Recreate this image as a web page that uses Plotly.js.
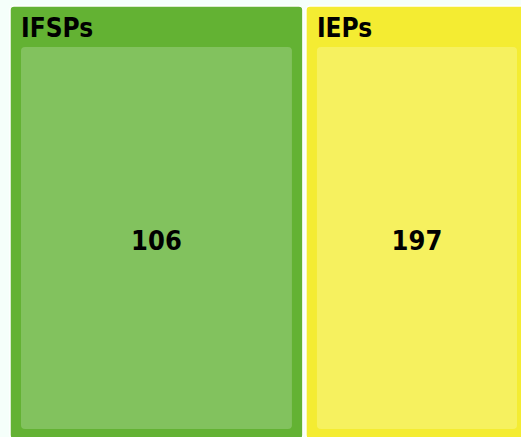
<!DOCTYPE html>
<html>
<head>
<meta charset="utf-8">
<script src="https://cdn.plot.ly/plotly-3.0.1.min.js"></script>
<style>
  html, body { margin: 0; padding: 0; background: #f5fffa; overflow: hidden; width: 521px; height: 437px; }
  #chart { position: absolute; left: -11px; top: -42px; width: 550px; height: 497px; }
</style>
</head>
<body>
<div id="chart"></div>
<script>
// Data
var programs = ["IFSPs", "IEPs"];
var counts = [106, 197];               // numbers shown in the leaves
var areaShares = [56.8, 43.2];         // relative tile areas
var parentColors = ["#63b233", "#f4ec32"];
var leafColors = ["#82c25e", "#f6f15f"];

var CLEAR = "rgba(0,0,0,0)";
var ids = [], labels = [], parents = [], values = [], colors = [], lineColors = [], lineWidths = [];
var headerOnlyLabels = [], leafOnlyLabels = [], blankLabels = [];
programs.forEach(function (p, i) {
  ids.push(p); labels.push(p); parents.push(""); values.push(areaShares[i]);
  colors.push(parentColors[i]); lineColors.push("#ffffff"); lineWidths.push(1.5);
  headerOnlyLabels.push(p); leafOnlyLabels.push(""); blankLabels.push("");
});
programs.forEach(function (p, i) {
  ids.push(p + "/" + counts[i]); labels.push(String(counts[i])); parents.push(p); values.push(areaShares[i]);
  colors.push(leafColors[i]); lineColors.push(leafColors[i]); lineWidths.push(0);
  headerOnlyLabels.push(""); leafOnlyLabels.push(String(counts[i])); blankLabels.push("");
});

var family = "'Liberation Sans Narrow', 'DejaVu Sans Condensed', 'DejaVu Sans', sans-serif";
var pad = { t: 41, l: 11, r: 11, b: 10 };
var PH = 488; // plot-area height in px

function base(lbls, extra) {
  return Object.assign({
    type: "treemap",
    ids: ids,
    labels: lbls,
    parents: parents,
    values: values,
    branchvalues: "total",
    sort: false,
    leaf: { opacity: 1 },
    pathbar: { visible: false },
    hoverinfo: "none"
  }, extra);
}

// Trace 1: coloured tiles only
var tiles = base(blankLabels, {
  domain: { x: [0, 1], y: [4 / PH, 1] },
  textinfo: "none",
  textfont: { family: family, size: 26, color: CLEAR },
  marker: { colors: colors, line: { color: lineColors, width: lineWidths }, pad: pad, cornerradius: 4 }
});

// Trace 2: header labels (left aligned), transparent tiles
var headers = base(headerOnlyLabels, {
  domain: { x: [0, 1], y: [0, 1 - 4 / PH] },
  textinfo: "label",
  textposition: "top left",
  textfont: { family: family, size: 26, color: "#000000", weight: "bold" },
  marker: { colors: ids.map(function () { return CLEAR; }), line: { width: 0 }, pad: pad }
});

// Trace 3: leaf numbers (centered), transparent tiles
var numbers = base(leafOnlyLabels, {
  domain: { x: [0, 1], y: [2 / PH, 1 - 2 / PH] },
  textinfo: "label",
  textposition: "middle center",
  textfont: { family: family, size: 27, color: "#000000", weight: "bold" },
  marker: { colors: ids.map(function () { return CLEAR; }), line: { width: 0 }, pad: pad }
});

var layout = {
  width: 550,
  height: 497,
  margin: { l: 10, r: 0, t: 7, b: 2 },
  paper_bgcolor: "#f5fffa",
  plot_bgcolor: "#f5fffa",
  showlegend: false
};

Plotly.newPlot("chart", [tiles, headers, numbers], layout, { displayModeBar: false, staticPlot: true });
</script>
</body>
</html>
